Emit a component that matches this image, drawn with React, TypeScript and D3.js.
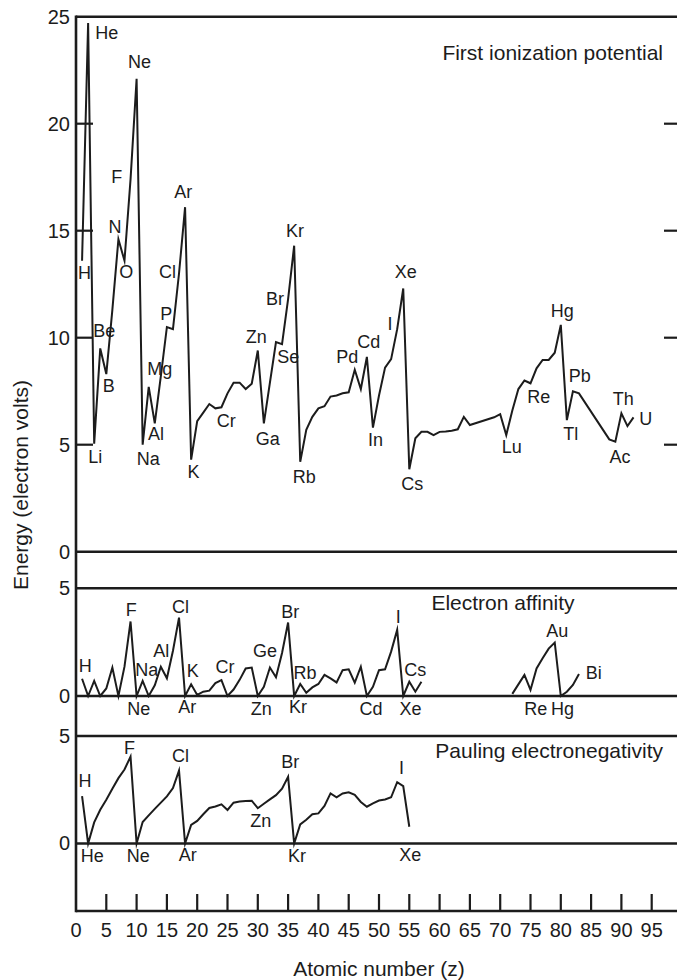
import React from 'react';
import * as d3 from 'd3';

// ---------------- data ----------------
const elementSymbols = [
  'H','He','Li','Be','B','C','N','O','F','Ne','Na','Mg','Al','Si','P','S','Cl','Ar','K','Ca',
  'Sc','Ti','V','Cr','Mn','Fe','Co','Ni','Cu','Zn','Ga','Ge','As','Se','Br','Kr','Rb','Sr','Y','Zr',
  'Nb','Mo','Tc','Ru','Rh','Pd','Ag','Cd','In','Sn','Sb','Te','I','Xe','Cs','Ba','La','Ce','Pr','Nd',
  'Pm','Sm','Eu','Gd','Tb','Dy','Ho','Er','Tm','Yb','Lu','Hf','Ta','W','Re','Os','Ir','Pt','Au','Hg',
  'Tl','Pb','Bi','Po','At','Rn','Fr','Ra','Ac','Th','Pa','U'
];

// First ionization potential (eV)
const ionZ = [
  1,2,3,4,5,6,7,8,9,10,11,12,13,14,15,16,17,18,19,20,21,22,23,24,25,26,27,28,29,30,
  31,32,33,34,35,36,37,38,39,40,41,42,43,44,45,46,47,48,49,50,51,52,53,54,55,56,57,58,59,60,
  61,62,63,64,65,69,70,71,72,73,74,75,76,77,78,79,80,81,82,83,88,89,90,91,92
];
const ionV = [
  13.6,24.7,5.05,9.5,8.3,11.3,14.6,13.6,17.4,22.1,5.0,7.7,6.0,8.2,10.5,10.4,13.0,16.1,4.3,6.1,
  6.5,6.9,6.7,6.75,7.4,7.9,7.9,7.6,7.85,9.4,6.0,7.9,9.8,9.7,11.8,14.3,4.2,5.7,6.3,6.7,
  6.8,7.25,7.3,7.4,7.45,8.5,7.6,9.1,5.8,7.3,8.6,9.0,10.4,12.3,3.85,5.3,5.6,5.6,5.45,5.6,
  5.62,5.65,5.72,6.3,5.92,6.28,6.43,5.45,6.6,7.6,8.0,7.87,8.57,8.96,8.96,9.3,10.6,6.15,7.5,7.4,
  5.25,5.14,6.47,5.87,6.28
];

// Electron affinity (eV); null = no data
const affZ = [
  1,2,3,4,5,6,7,8,9,10,11,12,13,14,15,16,17,18,19,20,21,22,23,24,25,26,27,28,29,30,
  31,32,33,34,35,36,37,38,39,40,41,42,43,44,45,46,47,48,49,50,51,52,53,54,55,56,57,58,
  72,73,74,75,76,77,78,79,80,81,82,83
];
const affV: (number | null)[] = [
  0.8,0,0.7,0,0.35,1.32,0,1.36,3.46,0,0.7,0,0.5,1.36,0.82,2.1,3.64,0,0.54,0.05,
  0.2,0.25,0.6,0.74,0,0.3,0.75,1.28,1.32,0,0.43,1.32,0.87,2.0,3.41,0,0.56,0.15,0.4,0.56,
  0.98,0.82,0.63,1.2,1.24,0.62,1.36,0,0.43,1.2,1.24,2.06,3.07,0,0.66,0.2,0.66,null,
  0.1,0.54,0.98,0.28,1.28,1.75,2.2,2.48,0,0.2,0.51,1.02
];

// Pauling electronegativity
const pauZ = [
  1,2,3,4,5,6,7,8,9,10,11,12,13,14,15,16,17,18,19,20,21,22,23,24,25,26,27,28,29,30,
  31,32,33,34,35,36,37,38,39,40,41,42,43,44,45,46,47,48,49,50,51,52,53,54,55
];
const pauV = [
  2.2,0,0.98,1.57,2.04,2.55,3.04,3.44,4.04,0,1.0,1.31,1.61,1.9,2.19,2.58,3.39,0,0.86,1.05,
  1.36,1.65,1.72,1.82,1.56,1.9,1.95,1.98,1.99,1.64,1.85,2.05,2.25,2.55,3.1,0,0.89,1.1,1.36,1.4,
  1.75,2.33,2.15,2.33,2.38,2.26,1.93,1.71,1.87,2.0,2.05,2.15,2.85,2.67,0.78
];

const ionLabels = ['H','He','Li','Be','B','N','O','F','Ne','Na','Mg','Al','P','Cl','Ar','K','Cr','Zn','Ga','Se','Br','Kr','Rb','Pd','Cd','In','I','Xe','Cs','Lu','Re','Hg','Tl','Pb','Ac','Th','U'];
const affLabels = ['H','F','Ne','Na','Al','Cl','Ar','K','Cr','Zn','Ge','Br','Kr','Rb','Cd','I','Xe','Cs','Re','Au','Hg','Bi'];
const pauLabels = ['H','He','F','Ne','Cl','Ar','Zn','Br','Kr','I','Xe'];

const xTicks = d3.range(0, 96, 5);
const ionTickLabels = [0, 5, 10, 15, 20, 25];
const ionInnerTicks = [5, 10, 15, 20];
const smallTickLabels = [0, 5];

const titles = {
  ion: 'First ionization potential',
  aff: 'Electron affinity',
  pau: 'Pauling electronegativity',
  x: 'Atomic number (z)',
  y: 'Energy (electron volts)',
};

// ---------------- layout (label offsets from data point) ----------------
type Off = { dx: number; dy: number; zero?: boolean };
const ionOff: Record<string, Off> = {
  H: { dx: 2.4, dy: 18.3 }, He: { dx: 18.7, dy: 16 }, Li: { dx: 1, dy: 19.4 }, Be: { dx: 4, dy: -11.7 },
  B: { dx: 2.4, dy: 17.6 }, N: { dx: -3.4, dy: -6.6 }, O: { dx: 1.7, dy: 17.3 }, F: { dx: -13.7, dy: 4 },
  Ne: { dx: 3, dy: -10.5 }, Na: { dx: 5.6, dy: 20.3 }, Mg: { dx: 11, dy: -12 }, Al: { dx: 1.2, dy: 16.7 },
  P: { dx: -0.7, dy: -7 }, Cl: { dx: -11.5, dy: 4.5 }, Ar: { dx: -1.8, dy: -9.2 }, K: { dx: 2.4, dy: 18.6 },
  Cr: { dx: 4.9, dy: 19.5 }, Zn: { dx: -1.5, dy: -7.8 }, Ga: { dx: 3.8, dy: 21.7 }, Se: { dx: 6.3, dy: 18.6 },
  Br: { dx: -13, dy: 5.8 }, Kr: { dx: 0.8, dy: -8.7 }, Rb: { dx: 4, dy: 20.9 }, Pd: { dx: -7.6, dy: -6.5 },
  Cd: { dx: 1.9, dy: -8.7 }, In: { dx: 2.5, dy: 18.4 }, I: { dx: -7.2, dy: 0.9 }, Xe: { dx: 2.6, dy: -10.2 },
  Cs: { dx: 2.9, dy: 20.7 }, Lu: { dx: 5.4, dy: 18.2 }, Re: { dx: 8.2, dy: 20 }, Hg: { dx: 1.5, dy: -8.2 },
  Tl: { dx: 3.8, dy: 19.9 }, Pb: { dx: 6.8, dy: -9.5 }, Ac: { dx: 4.7, dy: 21.6 }, Th: { dx: 1.9, dy: -8.2 },
  U: { dx: 12.3, dy: 7.7 },
};
const affOff: Record<string, Off> = {
  H: { dx: 3.2, dy: -7 }, F: { dx: 0.8, dy: -5 }, Ne: { dx: 2.2, dy: 19 }, Na: { dx: 4, dy: -5 },
  Al: { dx: 6.4, dy: -28 }, Cl: { dx: 1.5, dy: -4.4 }, Ar: { dx: 2.1, dy: 16.7 }, K: { dx: 1.7, dy: -7.1 },
  Cr: { dx: 3.6, dy: -6.8 }, Zn: { dx: 3.4, dy: 19 }, Ge: { dx: -4.9, dy: -10.3 }, Br: { dx: 2.1, dy: -4.4 },
  Kr: { dx: 3.8, dy: 17.3 }, Rb: { dx: 4.8, dy: -4.7 }, Cd: { dx: 4.1, dy: 19 }, I: { dx: 1.1, dy: -6.7 },
  Xe: { dx: 7.3, dy: 19 }, Cs: { dx: 6, dy: -5.8 }, Re: { dx: 5.3, dy: 25 }, Au: { dx: 2.5, dy: -6 },
  Hg: { dx: 1.7, dy: 19 }, Bi: { dx: 14.8, dy: 5.2 },
};
const pauOff: Record<string, Off> = {
  H: { dx: 2.9, dy: -8.9 }, He: { dx: 4.1, dy: 18.2 }, F: { dx: -1, dy: -2.6 }, Ne: { dx: 1.6, dy: 18.2 },
  Cl: { dx: 1.5, dy: -8.9 }, Ar: { dx: 2.7, dy: 17.5 }, Zn: { dx: 2.9, dy: 18.5 }, Br: { dx: 2.1, dy: -8.6 },
  Kr: { dx: 2.8, dy: 18.2 }, I: { dx: 4.4, dy: -8.2 }, Xe: { dx: 7, dy: 17.5, zero: true },
};

const W = 677, H = 980;
const FONT = '"Liberation Sans", Arial, Helvetica, sans-serif';
const INK = '#1c1c1c';
const LEFT = 76, RIGHT = 677;

const x = d3.scaleLinear().domain([0, 95]).range([LEFT, 651.7]);
const yIon = d3.scaleLinear().domain([0, 25]).range([551.7, 16.7]);
const yAff = d3.scaleLinear().domain([0, 5]).range([696, 588.3]);
const yPau = d3.scaleLinear().domain([0, 5]).range([843.5, 736]);
const BOTTOM = 911;

function Labels({ names, zs, vs, y, off }: { names: string[]; zs: number[]; vs: (number | null)[]; y: d3.ScaleLinear<number, number>; off: Record<string, Off> }) {
  return (
    <g fontFamily={FONT} fontSize={18} fill={INK} textAnchor="middle">
      {names.map((s) => {
        const z = elementSymbols.indexOf(s) + 1;
        const i = zs.indexOf(z);
        const o = off[s];
        const v = o.zero ? 0 : (vs[i] as number);
        return (
          <text key={s} x={x(z) + o.dx} y={y(v) + o.dy}>{s}</text>
        );
      })}
    </g>
  );
}

export default function App() {
  const ionPath = d3.line<number>().x((_, i) => x(ionZ[i])).y((v) => yIon(v))(ionV) || '';
  const affPath = d3.line<number | null>()
    .defined((v) => v !== null)
    .x((_, i) => x(affZ[i]))
    .y((v) => yAff(v as number))(affV) || '';
  const pauPath = d3.line<number>().x((_, i) => x(pauZ[i])).y((v) => yPau(v))(pauV) || '';

  const hLines = [yIon(25), yIon(0), yAff(5), yAff(0), yPau(5), yPau(0), BOTTOM];

  return (
    <svg width={W} height={H} viewBox={`0 0 ${W} ${H}`} style={{ position: 'absolute', left: 0, top: 0, background: '#fff' }}>
      <rect x={0} y={0} width={W} height={H} fill="#fff" />
      {/* frame lines */}
      <g stroke={INK} strokeWidth={2.6} fill="none">
        {hLines.map((yy, i) => (
          <line key={i} x1={LEFT} x2={RIGHT} y1={yy} y2={yy} />
        ))}
        <line x1={LEFT} x2={LEFT} y1={yIon(25) - 1.3} y2={BOTTOM + 1.3} />
      </g>
      {/* ticks */}
      <g stroke={INK} strokeWidth={2.2}>
        {ionInnerTicks.map((t) => (
          <line key={'l' + t} x1={LEFT} x2={LEFT + 17} y1={yIon(t)} y2={yIon(t)} />
        ))}
        {ionInnerTicks.map((t) => (
          <line key={'r' + t} x1={664} x2={RIGHT} y1={yIon(t)} y2={yIon(t)} />
        ))}
        {xTicks.filter((t) => t > 0).map((t) => (
          <line key={'b' + t} x1={x(t)} x2={x(t)} y1={BOTTOM} y2={BOTTOM - 17} />
        ))}
      </g>
      {/* tick labels */}
      <g fontFamily={FONT} fontSize={20} fill={INK}>
        {ionTickLabels.map((t) => (
          <text key={'yi' + t} x={70} y={yIon(t)} dy="0.34em" textAnchor="end">{t}</text>
        ))}
        {smallTickLabels.map((t) => (
          <text key={'ya' + t} x={70} y={yAff(t)} dy="0.34em" textAnchor="end">{t}</text>
        ))}
        {smallTickLabels.map((t) => (
          <text key={'yp' + t} x={70} y={yPau(t)} dy="0.34em" textAnchor="end">{t}</text>
        ))}
        {xTicks.map((t) => (
          <text key={'x' + t} x={x(t)} y={936.5} textAnchor="middle">{t}</text>
        ))}
      </g>
      {/* data */}
      <g fill="none" stroke={INK} strokeWidth={2} strokeLinejoin="miter" strokeMiterlimit={6}>
        <path d={ionPath} />
        <path d={affPath} />
        <path d={pauPath} />
      </g>
      <Labels names={ionLabels} zs={ionZ} vs={ionV} y={yIon} off={ionOff} />
      <Labels names={affLabels} zs={affZ} vs={affV} y={yAff} off={affOff} />
      <Labels names={pauLabels} zs={pauZ} vs={pauV} y={yPau} off={pauOff} />
      {/* titles */}
      <g fontFamily={FONT} fontSize={21} fill={INK}>
        <text x={663} y={60} textAnchor="end">{titles.ion}</text>
        <text x={503} y={610} textAnchor="middle">{titles.aff}</text>
        <text x={663} y={758} textAnchor="end">{titles.pau}</text>
        <text x={379} y={976} textAnchor="middle">{titles.x}</text>
        <text transform={`translate(28,485) rotate(-90)`} textAnchor="middle">{titles.y}</text>
      </g>
    </svg>
  );
}
